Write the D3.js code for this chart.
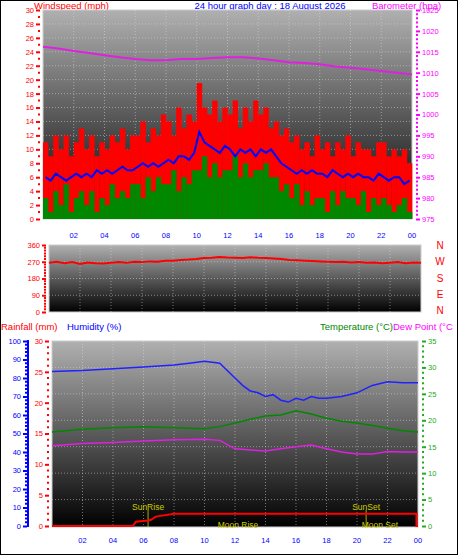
<!DOCTYPE html><html><head><meta charset="utf-8">
<script src="https://cdn.jsdelivr.net/npm/d3@7"></script>
<style>body{margin:0;background:#fff}svg{display:block;font-family:"Liberation Sans",Arial,sans-serif}</style></head><body>
<script>
const title="24 hour graph day : 18 August 2026";
const hourTicks=[2,4,6,8,10,12,14,16,18,20,22,24];
const gust=[11,9,12,10,12,9,11,13,10,12,9,11,10,12,11,13,10,12,12,14,11,13,12,15,14,12,16,13,15,14,19.5,16,15,17,14,16,15,17,13,16,14,17,15,16,13,14,12,13,11,12,10,11,9,12,10,11,9,11,10,12,9,11,10,10,9,11,11,9,10,9,10,8];
const avgWind=[6,5.5,6.5,6,5.5,6,6.5,6,6.5,6,7,6.5,7,6.5,7,7.5,7,7,7.5,8,7.5,8,7.5,8,8.5,8,9,9,8.5,9.5,12.5,11,10.5,10,9.5,10.5,10,9,10,9.5,10,9,10,9.5,10,9,8,7.5,7,6.5,7,6.5,7,6.5,6.5,6,7,6.5,6,6.5,6,6.5,6,6,5.5,6.5,6,5.5,6,6,5,5.5];
const minWind=[3,1,4,2,5,1,3,4,2,4,1,3,2,5,3,4,3,5,5,3,6,4,6,5,5,7,4,6,5,7,7,9,6,8,6,7,7,9,6,8,6,7,7,8,6,6,4,5,3,5,2,4,2,3,3,1,4,2,4,3,3,2,4,1,3,2,3,2,1,2,3,1];
const baroHours=[0,1,2,3,4,5,6,7,8,9,10,11,12,13,14,15,16,17,18,19,20,21,22,23,24];
const baro=[1016.2,1015.8,1015.2,1014.7,1014.2,1013.7,1013.3,1013.0,1013.0,1013.3,1013.3,1013.5,1013.7,1013.7,1013.4,1013.0,1012.5,1012.3,1012.0,1011.5,1011.2,1010.8,1010.4,1010.0,1009.6];
const windDir=[265,270,262,268,258,266,262,260,265,268,264,270,268,272,270,275,275,280,282,285,290,292,295,293,292,290,294,291,290,288,285,280,278,276,274,272,270,268,270,266,268,264,266,262,265,268,262,266,265];
const humHours=[0,2,4,6,8,9,10,11,12,12.5,13,13.5,14,14.5,15,15.5,16,16.5,17,17.5,18,19,20,20.5,21,22,23,24];
const humidity=[83.5,84,85,86,87,88,89,88,80,76,73,72,70,71,68,67,69,68,70,69,69,70,72,74,76,78,77.5,77.5];
const tHours=[0,2,4,6,8,10,11,12,13,14,15,16,17,18,19,20,21,22,23,24];
const temp=[17.8,18.3,18.6,18.8,18.6,18.4,18.8,19.5,20.2,20.8,21,21.8,21.2,20.4,19.8,19.5,19,18.5,18,17.8];
const dew=[15.2,15.6,15.8,16.1,16.3,16.4,16.2,14.6,14.4,14.2,14.6,15,15.3,14.6,14,13.6,13.6,14.1,14,14];
const rainHours=[0,5.3,5.5,6.3,6.5,6.8,7,7.8,8,23.9,23.9,24];
const rain=[0,0,0.7,0.9,1.0,1.5,1.6,1.9,2.0,2.0,0,0];
const events=[{t:6.3,label:"SunRise",line:true,top:true},{t:20.6,label:"SunSet",line:true,top:true},{t:12.2,label:"Moon Rise",line:false},{t:21.5,label:"Moon Set",line:false}];
const compass=["N","W","S","E","N"];

const W=458,H=555;
const svg=d3.select("body").append("svg").attr("width",W).attr("height",H);
svg.append("rect").attr("x",0.5).attr("y",0.5).attr("width",W-1).attr("height",H-1).attr("fill","#fff").attr("stroke","#000");
const defs=svg.append("defs");
const g=defs.append("linearGradient").attr("id","bg").attr("x1",0).attr("y1",0).attr("x2",0).attr("y2",1);
g.append("stop").attr("offset","0").attr("stop-color","#b0b0b0");
g.append("stop").attr("offset","0.5").attr("stop-color","#5a5a5a");
g.append("stop").attr("offset","1").attr("stop-color","#000");
function txt(x,y,s,c,anchor,size){return svg.append("text").attr("x",x).attr("y",y).text(s).attr("fill",c).attr("font-size",size||9).attr("text-anchor",anchor||"start");}

function panel(x0,x1,y0,y1){
  svg.append("rect").attr("x",x0).attr("y",y0).attr("width",x1-x0).attr("height",y1-y0).attr("fill","url(#bg)").attr("stroke","#ccc");
  return d3.scaleLinear().domain([0,24]).range([x0,x1]);
}
function grid(x,y0,y1,yvals,ys){
  const gg=svg.append("g").attr("stroke","#ddd").attr("stroke-opacity",0.5).attr("stroke-dasharray","1,2");
  hourTicks.slice(0,11).forEach(h=>gg.append("line").attr("x1",x(h)).attr("x2",x(h)).attr("y1",y0).attr("y2",y1));
  yvals.forEach(v=>gg.append("line").attr("x1",x.range()[0]).attr("x2",x.range()[1]).attr("y1",ys(v)).attr("y2",ys(v)));
}
function xlabels(x,y){
  hourTicks.forEach(h=>txt(x(h),y,d3.format("02")(h%24),"#00f","middle",7.5));
}
function yaxis(sc,xpos,vals,minor,c,side){
  const ax=(side==="right"?d3.axisRight(sc):d3.axisLeft(sc)).tickValues(vals).tickSize(4).tickPadding(2).tickFormat(d3.format("d"));
  const a=svg.append("g").attr("transform",`translate(${xpos},0)`).call(ax);
  a.select(".domain").remove();
  a.selectAll("line").attr("stroke",c).attr("stroke-width",2);
  a.selectAll("text").attr("fill",c).attr("font-size",7.5).attr("font-family","Liberation Sans");
  const mn=svg.append("g").attr("stroke",c).attr("stroke-width",2);
  minor.forEach(v=>mn.append("line").attr("x1",side==="right"?xpos:xpos-2).attr("x2",side==="right"?xpos+2:xpos).attr("y1",sc(v)).attr("y2",sc(v)));
}

// Titles
txt(34,9,"Windspeed (mph)","#f00","start",9.5);
txt(270,9,title,"#00f","middle",9.5);
txt(372,9,"Barometer (hpa)","#f0f","start",9.5);

// Panel 1
const x1=panel(43,412,10,219);
const yW=d3.scaleLinear().domain([0,30]).range([219,10]);
const yB=d3.scaleLinear().domain([975,1025]).range([219,10]);
grid(x1,10,219,d3.range(2,30,2),yW);
const bw=(x1(24)-x1(0))/gust.length;
svg.append("g").selectAll("rect").data(gust).join("rect").attr("x",(d,i)=>x1(i/3)).attr("width",bw+0.3).attr("y",d=>yW(d)).attr("height",d=>yW(0)-yW(d)).attr("fill","#f00");
svg.append("g").selectAll("rect").data(minWind).join("rect").attr("x",(d,i)=>x1(i/3)).attr("width",bw+0.3).attr("y",d=>yW(d)).attr("height",d=>yW(0)-yW(d)).attr("fill","#080");
svg.append("path").datum(avgWind).attr("d",d3.line().x((d,i)=>x1(i/3+1/6)).y(d=>yW(d))).attr("fill","none").attr("stroke","#00f").attr("stroke-width",2);
svg.append("path").datum(baro).attr("d",d3.line().x((d,i)=>x1(baroHours[i])).y(d=>yB(d))).attr("fill","none").attr("stroke","#e020e0").attr("stroke-width",2);
yaxis(yW,40,d3.range(0,31,2),d3.range(1,30,2),"#f00","left");
yaxis(yB,416,d3.range(975,1026,5),d3.range(976,1025,1).filter(v=>v%5),"#f0f","right");
xlabels(x1,238);

// Panel 2
const x2=panel(49,421,245,312);
const yD=d3.scaleLinear().domain([0,360]).range([312,245]);
grid(x2,245,312,[90,180,270],yD);
svg.append("path").datum(windDir).attr("d",d3.line().x((d,i)=>x2(i/2)).y(d=>yD(d))).attr("fill","none").attr("stroke","#f00").attr("stroke-width",2);
yaxis(yD,46,[0,90,180,270,360],d3.range(15,360,15).filter(v=>v%90),"#f00","left");
compass.forEach((s,i)=>txt(440,249+i*16.3,s,"#f00","middle",10));

// Panel 3
txt(1,330,"Rainfall (mm)","#f00","start",9.5);
txt(67,330,"Humidity (%)","#00f","start",9.5);
txt(393,330,"Temperature (°C)","#080","end",9.5);
txt(393,330,"Dew Point (°C","#f0f","start",9.5);
const x3=panel(52,418,341,527);
const yH=d3.scaleLinear().domain([0,100]).range([526,341]);
const yR=d3.scaleLinear().domain([0,30]).range([526,341]);
const yT=d3.scaleLinear().domain([0,35]).range([526,341]);
grid(x3,341,527,[5,10,15,20,25,30],yT);
svg.append("line").attr("x1",28).attr("x2",28).attr("y1",340).attr("y2",527).attr("stroke","#00f").attr("stroke-width",2);
yaxis(yH,27,d3.range(0,101,10),d3.range(2,100,2).filter(v=>v%10),"#00f","left");
yaxis(yR,49,[0,5,10,15,20,25,30],d3.range(1,30,1).filter(v=>v%5),"#f00","left");
yaxis(yT,422,d3.range(0,36,5),d3.range(1,35,1).filter(v=>v%5),"#2a2","right");
events.filter(e=>e.line).forEach(e=>svg.append("line").attr("x1",x3(e.t)).attr("x2",x3(e.t)).attr("y1",510).attr("y2",527).attr("stroke","#aa0"));
svg.append("path").datum(humidity).attr("d",d3.line().x((d,i)=>x3(humHours[i])).y(d=>yH(d))).attr("fill","none").attr("stroke","#22f").attr("stroke-width",1.5);
svg.append("path").datum(temp).attr("d",d3.line().x((d,i)=>x3(tHours[i])).y(d=>yT(d))).attr("fill","none").attr("stroke","#080").attr("stroke-width",1.5);
svg.append("path").datum(dew).attr("d",d3.line().x((d,i)=>x3(tHours[i])).y(d=>yT(d))).attr("fill","none").attr("stroke","#e020e0").attr("stroke-width",1.5);
svg.append("path").datum(rain).attr("d",d3.line().x((d,i)=>x3(rainHours[i])).y(d=>yR(d))).attr("fill","none").attr("stroke","#f00").attr("stroke-width",2);
events.forEach(e=>txt(x3(e.t),e.top?510:528,e.label,"#cc0","middle",8.5));
xlabels(x3,543);
</script></body></html>
